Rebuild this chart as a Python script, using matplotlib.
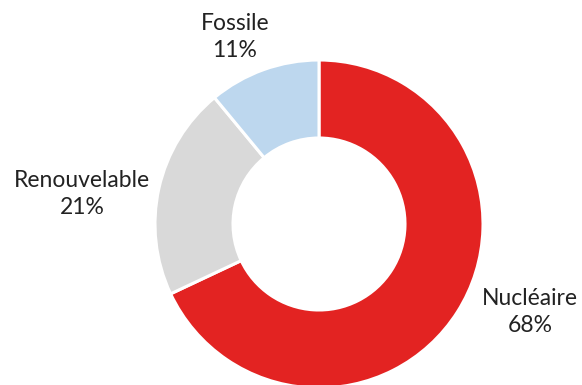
import matplotlib.pyplot as plt

# donnees
categories = ['Nucléaire', 'Renouvelable', 'Fossile']
parts = [68, 21, 11]
couleurs = ['#E32322', '#D9D9D9', '#BDD7EE']

fig = plt.figure(figsize=(5.82, 3.85), dpi=100)
ax = fig.add_axes([0, 0, 1, 1])

ax.pie(parts, colors=couleurs, startangle=90, counterclock=False,
       center=(319, 161), radius=164, frame=True,
       wedgeprops=dict(width=78, edgecolor='white', linewidth=2.2))
ax.set_xlim(0, 582)
ax.set_ylim(0, 385)
ax.set_aspect('equal')
ax.axis('off')

# position des etiquettes (pixels)
pos = [(530, 73), (82, 191), (235, 348)]
for cat, p, (x, y) in zip(categories, parts, pos):
    ax.text(x, y, f'{cat}\n{p}%', ha='center', va='center', fontsize=16.5,
            family='Lato', color='#222222', linespacing=1.3)

fig.savefig('out.png', dpi=100)
